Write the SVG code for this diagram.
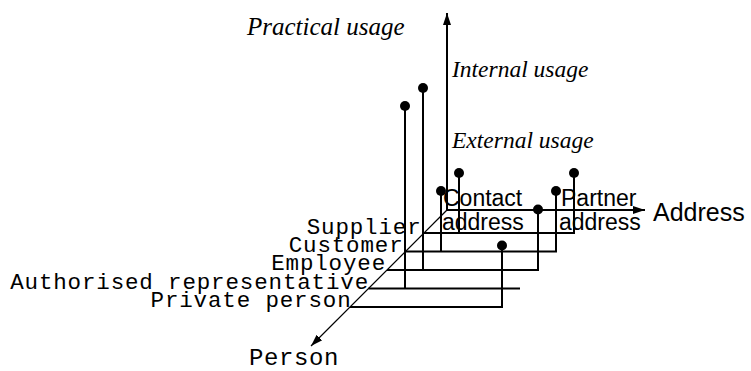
<svg xmlns="http://www.w3.org/2000/svg" width="751" height="371" viewBox="0 0 751 371">
  <style>
    .ln { stroke: #000; stroke-width: 2; fill: none; }
    .thin { stroke: #000; stroke-width: 1.2; fill: none; }
    .dot { fill: #000; }
    .mono { font-family: "Liberation Mono", "Courier New", monospace; font-size: 22.5px; letter-spacing: 0.85px; fill: #000; }
    .ital { font-family: "Liberation Serif", "Times New Roman", serif; font-style: italic; font-size: 23.5px; fill: #000; }
    .sans { font-family: "Liberation Sans", Arial, sans-serif; font-size: 23px; fill: #000; }
  </style>
  <defs>
    <marker id="arrow" viewBox="0 0 12 10" refX="12" refY="5" markerWidth="12" markerHeight="10" markerUnits="userSpaceOnUse" orient="auto">
      <path d="M0,1 L12,5 L0,9 Z" fill="#000"/>
    </marker>
  </defs>

  <!-- axes and connectors -->
  <g id="connectors">
    <line class="ln" x1="447" y1="210" x2="447" y2="13" marker-end="url(#arrow)"/>
    <line class="ln" x1="447" y1="210" x2="645" y2="210" marker-end="url(#arrow)"/>
    <line class="thin" x1="447" y1="210" x2="311" y2="346" marker-end="url(#arrow)"/>

    <!-- role rows -->
    <polyline class="ln" points="424,233 574,233 574,173"/>
    <polyline class="ln" points="405.5,251.5 556,251.5 556,191"/>
    <polyline class="ln" points="387,270 538,270 538,209.5"/>
    <line class="ln" x1="368.5" y1="288.5" x2="520" y2="288.5"/>
    <polyline class="ln" points="350,307 502,307 502,245.5"/>

    <!-- usage stems -->
    <line class="ln" x1="405" y1="106" x2="405" y2="288.5"/>
    <line class="ln" x1="423" y1="88" x2="423" y2="270"/>
    <line class="ln" x1="441" y1="191" x2="441" y2="251.5"/>
    <line class="ln" x1="459" y1="173" x2="459" y2="233"/>
  </g>

  <g id="points">
    <circle class="dot" cx="405" cy="106" r="5"/>
    <circle class="dot" cx="423" cy="88" r="5"/>
    <circle class="dot" cx="441" cy="191" r="5"/>
    <circle class="dot" cx="459" cy="173" r="5"/>
    <circle class="dot" cx="502" cy="245.5" r="5"/>
    <circle class="dot" cx="538" cy="209.5" r="5"/>
    <circle class="dot" cx="556" cy="191" r="5"/>
    <circle class="dot" cx="574" cy="173" r="5"/>
  </g>

  <g id="axis-usage">
    <text class="ital" x="247" y="35" style="font-size:25px">Practical usage</text>
    <text class="ital" x="452" y="77">Internal usage</text>
    <text class="ital" x="452" y="148">External usage</text>
  </g>

  <g id="axis-address">
    <text class="sans" x="653" y="221" style="font-size:25px">Address</text>
    <text class="sans" x="443" y="206">Contact</text>
    <text class="sans" x="442" y="230">address</text>
    <text class="sans" x="561" y="206">Partner</text>
    <text class="sans" x="559" y="230">address</text>
  </g>

  <g id="axis-person">
    <text class="mono" x="249" y="365" style="font-size:24px;letter-spacing:0.6px">Person</text>
    <text class="mono" text-anchor="end" x="421.5" y="233.5">Supplier</text>
    <text class="mono" text-anchor="end" x="403.5" y="252">Customer</text>
    <text class="mono" text-anchor="end" x="386" y="270">Employee</text>
    <text class="mono" text-anchor="end" x="369" y="288.5">Authorised representative</text>
    <text class="mono" text-anchor="end" x="351.5" y="307">Private person</text>
  </g>
</svg>
